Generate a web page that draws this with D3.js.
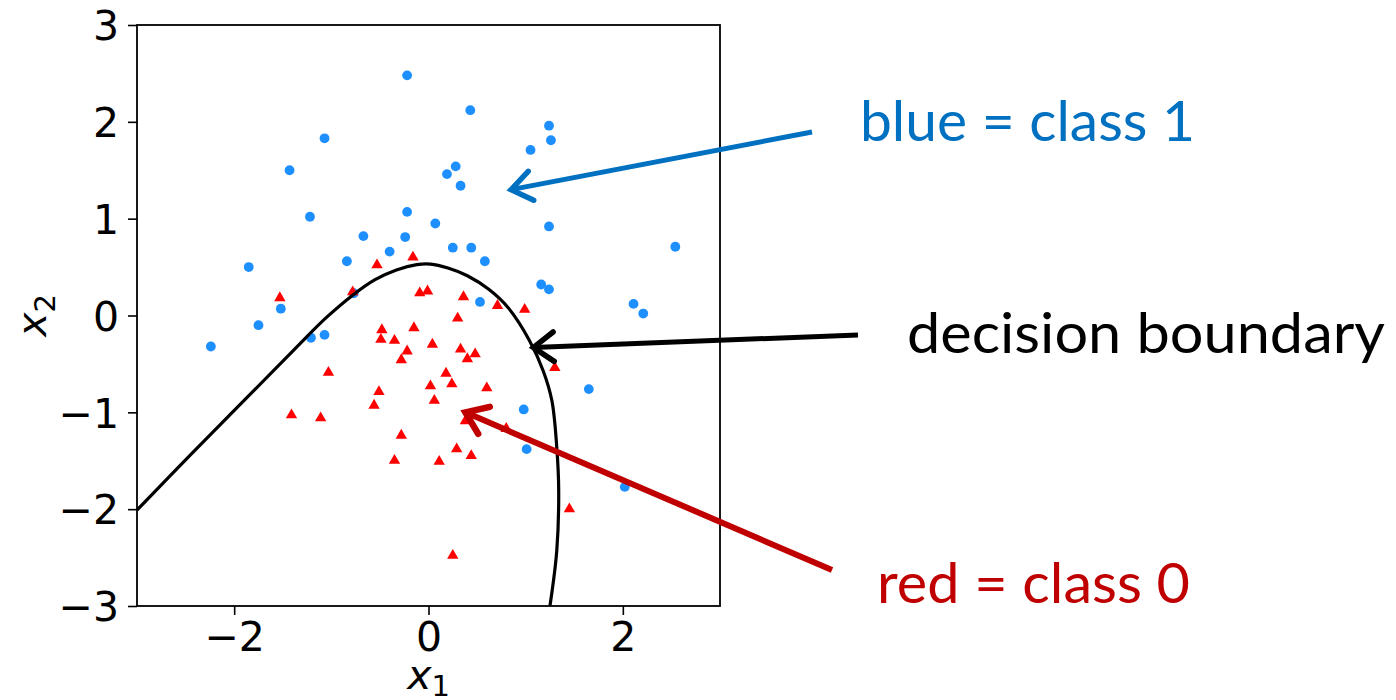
<!DOCTYPE html>
<html>
<head>
<meta charset="utf-8">
<script src="https://cdn.jsdelivr.net/npm/d3@7"></script>
<style>
  html, body { margin: 0; padding: 0; background: #fff; }
  svg { display: block; }
</style>
</head>
<body>
<svg id="chart" width="1396" height="700"></svg>
<script>
// Class 1 samples (blue circles): [x1, x2]
const class1 = [
  [-0.22, 2.48], [-1.07, 1.83], [-1.43, 1.50], [-1.22, 1.02], [-0.22, 1.07],
  [-0.67, 0.82], [-0.24, 0.81], [-0.40, 0.66], [-0.84, 0.56], [-1.85, 0.50],
  [-1.52, 0.07], [-1.75, -0.10], [-0.77, 0.23], [0.07, 0.95], [0.43, 2.12],
  [1.24, 1.96], [1.26, 1.81], [1.05, 1.71], [0.28, 1.54], [0.19, 1.46],
  [0.33, 1.34], [1.24, 0.92], [2.54, 0.71], [0.25, 0.70], [0.44, 0.70],
  [0.58, 0.56], [1.16, 0.32], [1.24, 0.27], [0.53, 0.14], [2.11, 0.12],
  [2.21, 0.02], [-2.24, -0.32], [-1.21, -0.23], [-1.07, -0.20], [1.65, -0.76],
  [0.98, -0.97], [1.01, -1.38], [2.02, -1.77]
];

// Class 0 samples (red triangles): [x1, x2]
const class0 = [
  [-0.16, 0.61], [-0.53, 0.53], [-1.53, 0.19], [-0.78, 0.25], [-0.09, 0.24],
  [-0.01, 0.26], [0.36, 0.20], [0.71, 0.11], [0.99, 0.07], [0.30, -0.02],
  [-0.48, -0.14], [-0.49, -0.24], [-0.15, -0.12], [-0.35, -0.25], [0.04, -0.29],
  [-0.22, -0.36], [-0.28, -0.45], [-1.03, -0.58], [0.02, -0.72], [-0.51, -0.78],
  [0.06, -0.87], [-0.56, -0.92], [-1.41, -1.02], [-1.11, -1.05], [-0.28, -1.23],
  [-0.35, -1.49], [0.11, -1.50], [0.33, -0.34], [0.48, -0.39], [0.40, -0.44],
  [1.30, -0.53], [0.18, -0.59], [0.24, -0.70], [0.60, -0.74], [0.38, -1.08],
  [0.80, -1.16], [0.29, -1.37], [0.44, -1.44], [1.45, -1.99], [0.25, -2.47]
];

// Decision boundary traced as [x1, x2] vertices
const boundary = [
  [-3.00, -2.01], [-2.45, -1.44], [-1.90, -0.88], [-1.40, -0.37], [-1.05, -0.02],
  [-0.78, 0.21], [-0.55, 0.37], [-0.33, 0.47], [-0.12, 0.525], [0.02, 0.53],
  [0.20, 0.49], [0.40, 0.41], [0.62, 0.27], [0.82, 0.08], [1.04, -0.26],
  [1.18, -0.57], [1.27, -0.88], [1.32, -1.36], [1.34, -1.81], [1.32, -2.43],
  [1.25, -3.00]
];

const xTicks = [-2, 0, 2];
const yTicks = [-3, -2, -1, 0, 1, 2, 3];

// Callout labels and the data point each arrow points at
const callouts = [
  { text: "blue = class 1",     color: "#0070C0", tip: [0.85, 1.30],  tail: [812, 132], tx: 860, ty: 141, tw: 335, width: 5 },
  { text: "decision boundary",  color: "#000000", tip: [1.08, -0.33], tail: [858, 335], tx: 907, ty: 353, tw: 478, width: 5 },
  { text: "red = class 0",      color: "#C00000", tip: [0.38, -1.00], tail: [832, 570], tx: 877, ty: 603, tw: 313, width: 6 }
];

const svg = d3.select("#chart");
const plotL = 137, plotR = 720, plotT = 25, plotB = 606;

const x = d3.scaleLinear().domain([-3, 3]).range([plotL, plotR]);
const y = d3.scaleLinear().domain([-3, 3]).range([plotB, plotT]);

svg.append("rect").attr("width", 1396).attr("height", 700).attr("fill", "#fff");

const clipId = "plot-clip";
svg.append("defs").append("clipPath").attr("id", clipId)
  .append("rect").attr("x", plotL).attr("y", plotT)
  .attr("width", plotR - plotL).attr("height", plotB - plotT);

const marks = svg.append("g").attr("clip-path", `url(#${clipId})`);

// blue circles
marks.selectAll("circle.c1").data(class1).join("circle")
  .attr("class", "c1")
  .attr("cx", d => x(d[0])).attr("cy", d => y(d[1]))
  .attr("r", 4.9).attr("fill", "#1E8FFF");

// red triangles
const tri = d3.symbol().type(d3.symbolTriangle).size(56);
marks.selectAll("path.c0").data(class0).join("path")
  .attr("class", "c0")
  .attr("transform", d => `translate(${x(d[0])},${y(d[1]) + 0.8})`)
  .attr("d", tri).attr("fill", "#FF0000");

// decision boundary
marks.append("path").datum(boundary)
  .attr("d", d3.line().x(d => x(d[0])).y(d => y(d[1])).curve(d3.curveCatmullRom.alpha(0.5)))
  .attr("fill", "none").attr("stroke", "#000").attr("stroke-width", 3.2)
  .attr("stroke-linejoin", "round");

// axes
const tickFont = "'DejaVu Sans', sans-serif";
const fmt = d3.format("d");

const xAxis = svg.append("g").attr("transform", `translate(0,${plotB})`)
  .call(d3.axisBottom(x).tickValues(xTicks).tickSize(9).tickPadding(7).tickFormat(fmt));
const yAxis = svg.append("g").attr("transform", `translate(${plotL},0)`)
  .call(d3.axisLeft(y).tickValues(yTicks).tickSize(9).tickPadding(9).tickFormat(fmt));

[xAxis, yAxis].forEach(a => {
  a.select(".domain").remove();
  a.selectAll(".tick line").attr("stroke", "#000").attr("stroke-width", 1.6);
  a.selectAll(".tick text").attr("fill", "#000")
    .style("font-family", tickFont).style("font-size", "41px");
});
yAxis.selectAll(".tick text").attr("dy", "0.36em");

// frame
svg.append("rect").attr("x", plotL).attr("y", plotT)
  .attr("width", plotR - plotL).attr("height", plotB - plotT)
  .attr("fill", "none").attr("stroke", "#000").attr("stroke-width", 1.8);

// axis titles
const xl = svg.append("text").attr("x", x(0)).attr("y", 689)
  .attr("text-anchor", "middle").style("font-family", tickFont).style("font-size", "41px");
xl.append("tspan").style("font-style", "italic").text("x");
xl.append("tspan").attr("dy", 7).style("font-size", "29px").text("1");

const yl = svg.append("text")
  .attr("transform", `translate(46,${y(0)}) rotate(-90)`)
  .attr("text-anchor", "middle").style("font-family", tickFont).style("font-size", "41px");
yl.append("tspan").style("font-style", "italic").text("x");
yl.append("tspan").attr("dy", 9).style("font-size", "29px").text("2");

// callouts
const notes = svg.append("g");
callouts.forEach(c => {
  const tx = x(c.tip[0]), ty = y(c.tip[1]);
  const [sx, sy] = c.tail;
  const ang = Math.atan2(ty - sy, tx - sx);
  const L = 25, th = Math.PI / 5;
  const a1 = [tx - L * Math.cos(ang - th), ty - L * Math.sin(ang - th)];
  const a2 = [tx - L * Math.cos(ang + th), ty - L * Math.sin(ang + th)];
  notes.append("line").attr("x1", sx).attr("y1", sy).attr("x2", tx).attr("y2", ty)
    .attr("stroke", c.color).attr("stroke-width", c.width);
  notes.append("path")
    .attr("d", `M${a1[0]},${a1[1]}L${tx},${ty}L${a2[0]},${a2[1]}`)
    .attr("fill", "none").attr("stroke", c.color).attr("stroke-width", c.width + 0.5)
    .attr("stroke-linejoin", "miter").attr("stroke-linecap", "round");
  notes.append("text").attr("x", c.tx).attr("y", c.ty)
    .attr("textLength", c.tw).attr("lengthAdjust", "spacingAndGlyphs")
    .style("font-family", "Lato, 'Open Sans', sans-serif").style("font-size", "56px")
    .attr("fill", c.color).text(c.text);
});
</script>
</body>
</html>
